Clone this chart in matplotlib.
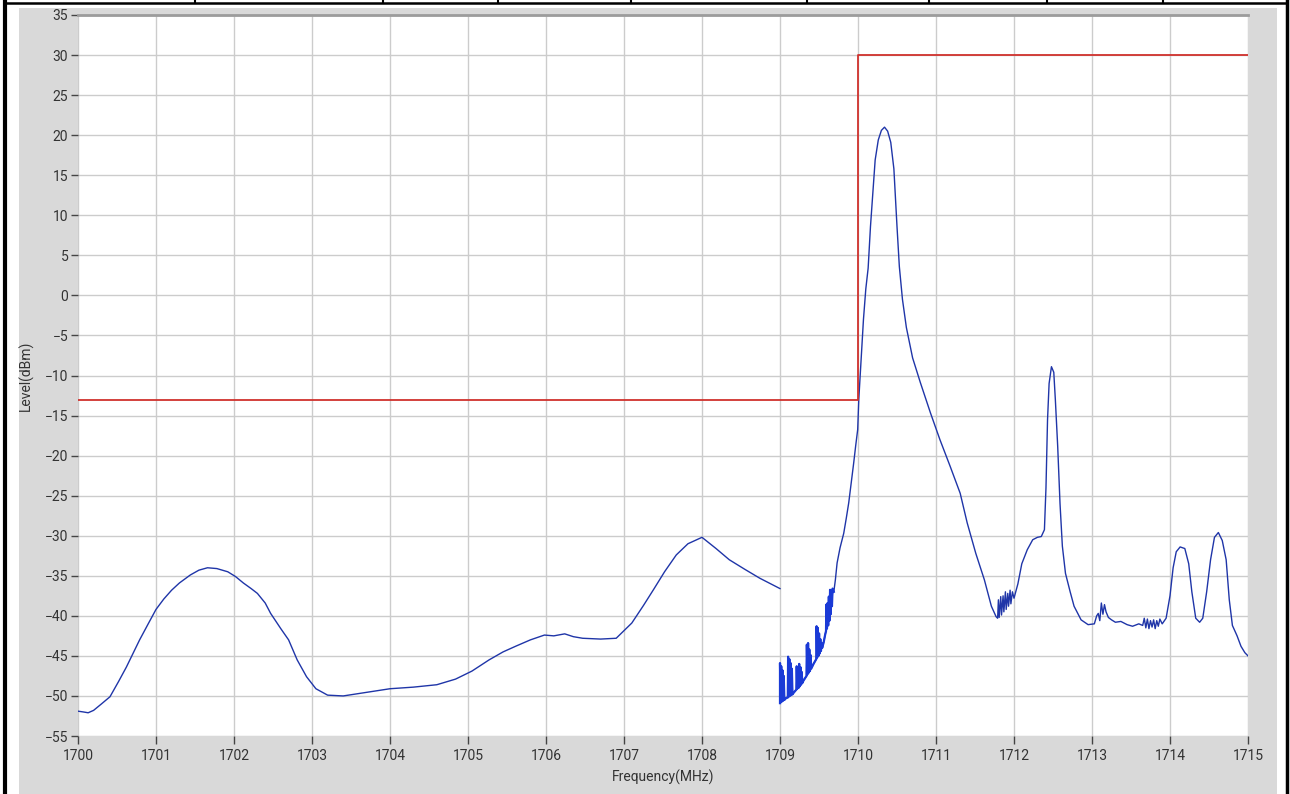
#!/usr/bin/env python3
"""Spectrum emission plot: measured trace against the -13/+30 dBm limit line"""
import matplotlib
matplotlib.use('Agg')
import matplotlib.pyplot as plt
from matplotlib.lines import Line2D
from matplotlib.patches import Rectangle

# Limit line (dBm)
limit_freq = [1700, 1710, 1710, 1715]
limit_level = [-13, -13, 30, 30]

# Measured trace, first sweep segment 1700-1709 MHz
low_freq = [1700.0, 1700.07, 1700.13, 1700.2, 1700.3, 1700.41, 1700.52, 1700.62, 1700.7,
            1700.79, 1700.9, 1701.0, 1701.1, 1701.2, 1701.3, 1701.44, 1701.55, 1701.66,
            1701.78, 1701.92, 1702.02, 1702.12, 1702.22, 1702.3, 1702.4, 1702.47, 1702.6,
            1702.7, 1702.81, 1702.93, 1703.05, 1703.2, 1703.4, 1703.6, 1703.8, 1704.0,
            1704.3, 1704.6, 1704.84, 1705.05, 1705.27, 1705.45, 1705.61, 1705.8, 1705.98,
            1706.1, 1706.24, 1706.35, 1706.47, 1706.7, 1706.9, 1707.1, 1707.25, 1707.38,
            1707.52, 1707.67, 1707.82, 1708.0, 1708.18, 1708.35, 1708.55, 1708.74, 1709.0]
low_level = [-51.9, -52.0, -52.1, -51.8, -51.0, -50.1, -48.2, -46.4, -44.8,
             -43.0, -41.0, -39.2, -37.9, -36.8, -35.9, -34.9, -34.3, -34.0,
             -34.1, -34.5, -35.1, -35.9, -36.6, -37.2, -38.4, -39.7, -41.6,
             -43.0, -45.5, -47.6, -49.1, -49.9, -50.0, -49.7, -49.4, -49.1,
             -48.9, -48.6, -47.9, -46.9, -45.5, -44.5, -43.8, -43.0, -42.4,
             -42.5, -42.25, -42.6, -42.8, -42.9, -42.8, -40.9, -38.7, -36.7,
             -34.5, -32.4, -31.0, -30.2, -31.6, -33.0, -34.2, -35.3, -36.6]

# Second sweep segment: comb of spurs riding on the rising skirt, 1709-1709.7 MHz
comb_freq = [1709.0, 1709.0, 1709.008, 1709.016, 1709.024, 1709.032, 1709.04, 1709.048,
             1709.056, 1709.075, 1709.095, 1709.1, 1709.104, 1709.112, 1709.12, 1709.128,
             1709.136, 1709.144, 1709.152, 1709.16, 1709.175, 1709.21, 1709.214, 1709.222,
             1709.23, 1709.238, 1709.246, 1709.254, 1709.262, 1709.27, 1709.278, 1709.286,
             1709.3, 1709.34, 1709.344, 1709.352, 1709.36, 1709.368, 1709.376, 1709.384,
             1709.392, 1709.4, 1709.43, 1709.465, 1709.469, 1709.477, 1709.485, 1709.493,
             1709.501, 1709.509, 1709.517, 1709.525, 1709.533, 1709.541, 1709.56, 1709.58,
             1709.59, 1709.594, 1709.602, 1709.61, 1709.618, 1709.626, 1709.634, 1709.642,
             1709.65, 1709.658, 1709.666, 1709.674, 1709.69]
comb_level = [-50.9, -45.9, -50.8, -46.3, -50.7, -46.8, -50.6, -47.5,
              -50.5, -50.3, -50.2, -50.2, -45.1, -50.1, -45.4, -50.0,
              -45.9, -49.9, -46.6, -49.8, -49.6, -49.2, -46.3, -49.1,
              -46.6, -49.0, -46.0, -48.8, -46.4, -48.6, -47.0, -48.4,
              -48.1, -47.5, -43.6, -47.3, -43.4, -47.1, -44.2, -46.9,
              -44.9, -46.6, -46.0, -45.4, -41.3, -45.2, -41.5, -45.0,
              -42.2, -44.7, -42.9, -44.4, -43.4, -44.0, -43.3, -42.3,
              -41.9, -38.6, -41.6, -38.4, -41.2, -37.6, -40.6, -36.75,
              -39.8, -37.2, -38.8, -36.6, -37.0]

# Second sweep segment continued, 1709.7-1715 MHz
high_freq = [1709.71, 1709.732, 1709.77, 1709.817, 1709.85, 1709.881, 1709.915, 1709.945,
             1709.97, 1709.996, 1710.01, 1710.04, 1710.07, 1710.1, 1710.13, 1710.16,
             1710.19, 1710.22, 1710.26, 1710.3, 1710.34, 1710.38, 1710.42, 1710.46,
             1710.5, 1710.53, 1710.57, 1710.62, 1710.7, 1710.8, 1710.93, 1711.05,
             1711.18, 1711.31, 1711.4, 1711.51, 1711.62, 1711.71, 1711.77, 1711.79,
             1711.8, 1711.81, 1711.83, 1711.84, 1711.86, 1711.87, 1711.89, 1711.9,
             1711.92, 1711.93, 1711.95, 1711.96, 1711.98, 1712.0, 1712.05, 1712.1,
             1712.17, 1712.24, 1712.3, 1712.35, 1712.39, 1712.41, 1712.43, 1712.45,
             1712.48, 1712.51, 1712.53, 1712.56, 1712.59, 1712.62, 1712.66, 1712.72,
             1712.77, 1712.86, 1712.95, 1713.03, 1713.06, 1713.08, 1713.1, 1713.12,
             1713.14, 1713.16, 1713.18, 1713.21, 1713.25, 1713.3, 1713.37, 1713.45,
             1713.52, 1713.6, 1713.65, 1713.67, 1713.69, 1713.71, 1713.73, 1713.75,
             1713.77, 1713.79, 1713.81, 1713.83, 1713.85, 1713.87, 1713.9, 1713.95,
             1714.0, 1714.04, 1714.08, 1714.13, 1714.19, 1714.24, 1714.28, 1714.33,
             1714.38, 1714.42, 1714.47, 1714.52, 1714.57, 1714.62, 1714.67, 1714.72,
             1714.76, 1714.8, 1714.86, 1714.91, 1714.96, 1715.0]
high_level = [-35.5, -33.4, -31.5, -29.7, -27.8, -25.9, -23.3, -20.9,
              -18.8, -16.75, -13.0, -8.0, -3.0, 0.8, 3.4, 8.6,
              12.8, 16.9, 19.4, 20.6, 21.0, 20.5, 19.1, 15.8,
              8.6, 3.6, -0.5, -4.0, -7.8, -10.9, -14.7, -18.0,
              -21.3, -24.7, -28.4, -32.2, -35.5, -38.8, -40.1, -40.3,
              -38.0, -40.2, -37.6, -39.9, -37.5, -39.5, -37.0, -39.2,
              -37.2, -38.8, -36.8, -38.5, -37.0, -37.8, -36.0, -33.5,
              -31.75, -30.5, -30.2, -30.1, -29.25, -24.0, -15.5, -11.0,
              -8.9, -9.6, -13.0, -18.8, -26.0, -31.3, -34.7, -37.0,
              -38.8, -40.5, -41.1, -41.0, -40.0, -39.7, -40.6, -38.4,
              -39.8, -38.6, -39.5, -40.2, -40.5, -40.8, -40.7, -41.1,
              -41.3, -41.0, -41.2, -40.3, -41.5, -40.4, -41.6, -40.6,
              -41.4, -40.5, -41.6, -40.6, -41.3, -40.4, -41.0, -40.3,
              -37.5, -34.0, -32.0, -31.4, -31.6, -33.5, -37.0, -40.3,
              -40.8, -40.3, -37.0, -33.0, -30.2, -29.6, -30.6, -33.0,
              -38.0, -41.2, -42.5, -43.8, -44.6, -45.0]

x_ticks = list(range(1700, 1716))
y_ticks = list(range(-55, 36, 5))

plt.rcParams['font.family'] = ['Roboto', 'DejaVu Sans']

W, H = 1290, 794
fig = plt.figure(figsize=(W / 100, H / 100), dpi=100)
fig.patch.set_facecolor('white')

def fx(px):
    return px / W

def fy(py):
    return 1 - py / H

# gray instrument panel behind the plot
fig.add_artist(Rectangle((fx(19), 0), fx(1277) - fx(19), fy(8), transform=fig.transFigure,
                         facecolor='#d9d9d9', edgecolor='none', zorder=0))

# table frame around the figure
frame_kw = dict(transform=fig.transFigure, color='black')
fig.add_artist(Line2D([fx(5), fx(5)], [0, 1], lw=3, **frame_kw))
fig.add_artist(Line2D([fx(1287), fx(1287)], [0, 1], lw=2.5, **frame_kw))
fig.add_artist(Line2D([fx(5), fx(1287)], [fy(3), fy(3)], lw=1.8, **frame_kw))
for xd in [195, 383, 498, 631, 807, 929, 1047, 1163]:
    fig.add_artist(Line2D([fx(xd), fx(xd)], [fy(3), 1], lw=1.5, **frame_kw))

ax = fig.add_axes([fx(78), fy(736), fx(1248) - fx(78), fy(15) - fy(736)])
ax.set_facecolor('white')

trace_color = '#1f35a8'
ax.plot(low_freq, low_level, color=trace_color, lw=1.0, zorder=3)
ax.plot(comb_freq + high_freq, comb_level + high_level, color=trace_color, lw=1.0, zorder=3)
ax.plot(comb_freq, comb_level, color='#1a3ad6', lw=1.6, zorder=3)
ax.plot(limit_freq, limit_level, color='#d0312d', lw=1.3, zorder=4)

ax.set_xlim(1700, 1715)
ax.set_ylim(-55, 35)
ax.set_xticks(x_ticks)
ax.set_yticks(y_ticks)
ax.grid(True, color='#cccccc', lw=1.0)
ax.set_axisbelow(True)

for side in ['left', 'right', 'bottom']:
    ax.spines[side].set_visible(False)
ax.spines['top'].set_color('#9c9c9c')
ax.spines['top'].set_linewidth(2)

ax.tick_params(axis='x', direction='out', length=6, width=1, color='#444444',
               labelsize=10, labelcolor='#333333', pad=3)
ax.tick_params(axis='y', direction='out', length=5, width=1, color='#444444',
               labelsize=10, labelcolor='#333333', pad=2)

ax.set_xlabel('Frequency(MHz)', fontsize=10, color='#333333', labelpad=5)
ax.set_ylabel('Level(dBm)', fontsize=10, color='#333333', labelpad=8)

fig.savefig('out.png', dpi=100, facecolor='white')
